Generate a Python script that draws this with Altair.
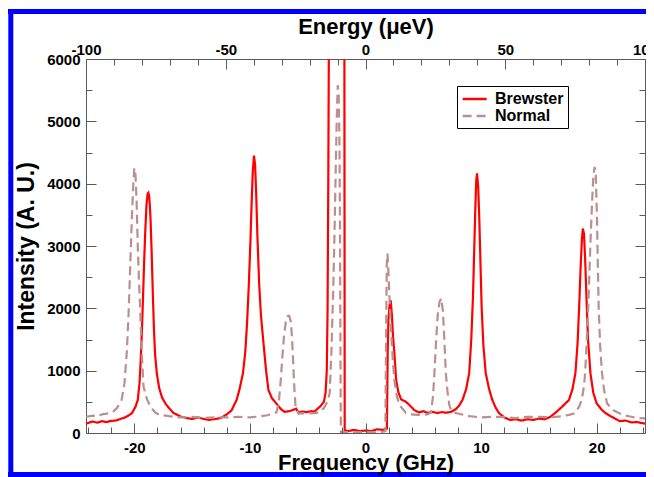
import altair as alt
import pandas as pd

# ---------------- data (frequency GHz, intensity A.U.) ----------------
series_names = ["Brewster", "Normal"]
series_colors = ["#ff0000", "#bc8f8f"]

brewster_points = [
    (-24.18, 150), (-23.6, 185), (-23.2, 165), (-22.8, 190), (-22.4, 175), (-22.0, 195),
    (-21.6, 200), (-21.2, 225), (-20.8, 250), (-20.5, 280), (-20.2, 320), (-19.9, 420),
    (-19.7, 530), (-19.55, 800), (-19.45, 1150), (-19.35, 1600), (-19.25, 2150), (-19.15, 2750),
    (-19.05, 3250), (-18.95, 3650), (-18.85, 3840), (-18.78, 3855), (-18.7, 3780), (-18.6, 3450),
    (-18.5, 2900), (-18.4, 2250), (-18.3, 1650), (-18.2, 1250), (-18.05, 950), (-17.85, 720),
    (-17.6, 570), (-17.3, 470), (-17.0, 400), (-16.6, 320), (-16.0, 265), (-15.5, 240),
    (-15.0, 225), (-14.5, 250), (-14.0, 225), (-13.5, 210), (-13.0, 225), (-12.5, 240),
    (-12.0, 300), (-11.6, 360), (-11.15, 530), (-10.9, 700), (-10.6, 960), (-10.4, 1300),
    (-10.25, 1750), (-10.1, 2350), (-9.95, 3100), (-9.85, 3700), (-9.75, 4200), (-9.65, 4450),
    (-9.55, 4300), (-9.45, 3800), (-9.35, 3150), (-9.2, 2400), (-9.05, 1900), (-8.85, 1490),
    (-8.6, 1000), (-8.4, 690), (-8.1, 560), (-7.7, 470), (-7.3, 380), (-7.0, 340),
    (-6.6, 350), (-6.2, 375), (-6.0, 390), (-5.8, 330), (-5.5, 345), (-5.1, 335),
    (-4.7, 350), (-4.4, 345), (-4.2, 380), (-3.9, 430), (-3.6, 500), (-3.45, 650),
    (-3.35, 1000), (-3.28, 2000), (-3.22, 4000), (-3.15, 7000),
    (-3.05, 9500), (-1.84, 9500), (-1.80, 45), (-1.5, 30), (-1.0, 50), (-0.5, 30),
    (0.0, 40), (0.5, 30), (1.0, 60), (1.5, 50), (1.85, 70), (1.92, 1300),
    (1.98, 1800), (2.08, 2050), (2.18, 2130), (2.28, 1900), (2.38, 1550), (2.5, 1280),
    (2.65, 850), (2.85, 650), (3.08, 540), (3.5, 500), (3.8, 450), (4.2, 370),
    (4.6, 330), (5.0, 350), (5.4, 320), (5.8, 340), (6.2, 320), (6.6, 335),
    (7.0, 325), (7.4, 340), (7.8, 380), (8.1, 440), (8.39, 530), (8.7, 700),
    (8.97, 960), (9.15, 1500), (9.3, 2200), (9.4, 2900), (9.5, 3600), (9.58, 4050),
    (9.65, 4165), (9.75, 3950), (9.85, 3400), (9.95, 2700), (10.05, 2000), (10.2, 1400),
    (10.4, 960), (10.7, 700), (10.97, 530), (11.25, 410), (11.55, 320), (12.0, 250),
    (12.5, 210), (13.0, 220), (13.5, 200), (14.0, 220), (14.5, 210), (15.0, 230),
    (15.5, 220), (16.0, 260), (16.4, 320), (17.0, 420), (17.6, 530), (17.9, 700),
    (18.16, 960), (18.35, 1450), (18.5, 2100), (18.62, 2700), (18.72, 3100), (18.8, 3280),
    (18.9, 3200), (19.0, 2800), (19.12, 2150), (19.25, 1500), (19.46, 960), (19.7, 650),
    (20.0, 475), (20.4, 380), (20.75, 320), (21.2, 270), (21.6, 230), (22.0, 190),
    (22.5, 200), (23.0, 170), (23.5, 175), (24.18, 150),
]

normal_points = [
    (-24.18, 260), (-23.6, 280), (-23.2, 265), (-22.8, 300), (-22.4, 310), (-21.9, 330),
    (-21.5, 400), (-21.1, 530), (-20.85, 800), (-20.65, 1300), (-20.5, 1900), (-20.35, 2700),
    (-20.22, 3400), (-20.1, 3950), (-20.0, 4250), (-19.9, 4150), (-19.8, 3700), (-19.7, 3000),
    (-19.6, 2450), (-19.5, 2030), (-19.35, 1250), (-19.2, 740), (-18.9, 540), (-18.6, 420),
    (-18.2, 330), (-17.8, 290), (-17.0, 270), (-16.0, 250), (-15.0, 260), (-14.0, 240),
    (-13.0, 250), (-12.0, 250), (-11.0, 260), (-10.0, 250), (-9.0, 270), (-8.5, 285),
    (-8.0, 310), (-7.7, 330), (-7.5, 500), (-7.35, 800), (-7.2, 1200), (-7.05, 1550),
    (-6.9, 1780), (-6.75, 1870), (-6.6, 1880), (-6.45, 1780), (-6.35, 1500), (-6.25, 1100),
    (-6.15, 700), (-6.05, 420), (-5.8, 310), (-5.5, 320), (-5.0, 310), (-4.5, 320),
    (-4.0, 330), (-3.6, 400), (-3.3, 500), (-3.1, 640), (-2.95, 1300), (-2.8, 2240),
    (-2.68, 3200), (-2.58, 4200), (-2.48, 5100), (-2.4, 5580), (-2.32, 5450), (-2.25, 4600),
    (-2.2, 3000), (-2.16, 1000), (-2.13, 10), (-1.5, 15), (-1.0, 10), (-0.5, 15),
    (0.0, 10), (0.5, 15), (1.0, 10), (1.5, 20), (1.72, 30), (1.78, 1500),
    (1.84, 2700), (1.9, 2880), (1.98, 2600), (2.1, 2050), (2.2, 1700), (2.35, 1200),
    (2.5, 850), (2.7, 600), (2.93, 450), (3.5, 320), (4.0, 300), (4.5, 290),
    (5.0, 290), (5.4, 300), (5.66, 330), (5.85, 600), (6.0, 1100), (6.1, 1450),
    (6.25, 1900), (6.4, 2100), (6.55, 2160), (6.7, 1950), (6.82, 1500), (6.95, 960),
    (7.1, 650), (7.25, 450), (7.4, 370), (7.8, 320), (8.5, 290), (9.0, 270),
    (10.0, 250), (11.0, 260), (12.0, 255), (13.0, 240), (14.0, 260), (15.0, 260),
    (16.0, 250), (17.0, 270), (17.6, 290), (18.0, 310), (18.2, 340), (18.5, 430),
    (18.7, 530), (18.9, 750), (19.0, 960), (19.15, 1500), (19.3, 2200), (19.45, 3000),
    (19.6, 3700), (19.72, 4150), (19.82, 4270), (19.92, 4150), (20.02, 3500), (20.1, 2700),
    (20.17, 2026), (20.3, 1400), (20.46, 960), (20.65, 680), (20.9, 475), (21.4, 370),
    (21.9, 320), (22.5, 280), (23.0, 260), (23.5, 240), (24.18, 235),
]

freq_ticks = list(range(-24, 25, 2))
energy_ticks = list(range(-100, 101, 10))
intensity_ticks = list(range(0, 6001, 500))

GHZ_TO_UEV = 4.135667
F_MAX = 100 / GHZ_TO_UEV

frames = []
for name, pts in zip(series_names, [brewster_points, normal_points]):
    frames.append(pd.DataFrame({
        "freq": [p[0] for p in pts],
        "intensity": [p[1] for p in pts],
        "series": name,
    }))
df = pd.concat(frames, ignore_index=True)

# ---------------- styling ----------------
FONT = "Liberation Sans"
AX = "#5a5a5a"
LABEL_SIZE = 15
TITLE_SIZE = 22


def major_minor(test, major, minor):
    return {"condition": {"test": test, "value": major}, "value": minor}


common_axis = dict(
    domain=False, grid=False, tickColor=AX, tickWidth=1,
    labelFont=FONT, labelFontSize=LABEL_SIZE, labelFontWeight="bold", labelColor="black",
    titleFont=FONT, titleFontSize=TITLE_SIZE, titleFontWeight="bold", titleColor="black",
    labelOverlap=False, labelFlush=False,
)

x_axis = alt.Axis(
    orient="bottom", values=freq_ticks, title="Frequency (GHz)",
    labelExpr="datum.value % 10 === 0 ? '' + datum.value : ''",
    tickSize=major_minor("datum.value % 10 === 0", -10, -6),
    labelPadding=17, titleY=36, titleBaseline="alphabetic", zindex=1, **common_axis,
)
y_axis = alt.Axis(
    orient="left", values=intensity_ticks, title="Intensity (A. U.)",
    labelExpr="datum.value % 1000 === 0 ? '' + datum.value : ''",
    tickSize=major_minor("datum.value % 1000 === 0", -10, -6),
    labelPadding=16, titleX=-53, titleBaseline="alphabetic",
    **{**common_axis, "titleFontSize": 23},
)
top_axis = alt.Axis(
    orient="top", values=energy_ticks, title="Energy (μeV)",
    labelExpr="datum.value % 50 === 0 ? '' + datum.value : ''",
    tickSize=major_minor("datum.value % 50 === 0", -10, -6),
    labelPadding=12, titleY=-26, titleBaseline="alphabetic", **common_axis,
)
right_axis = alt.Axis(
    orient="right", values=intensity_ticks, title=None, labels=False,
    tickSize=major_minor("datum.value % 1000 === 0", -10, -6),
    **common_axis,
)

legend = alt.Legend(
    title=None, orient="none", legendX=371, legendY=27, direction="vertical",
    strokeColor="black", fillColor="white", padding=4,
    labelFont=FONT, labelFontSize=16, labelFontWeight="bold", labelColor="black",
    symbolType="M-0.98,0H2.22", symbolSize=225, symbolStrokeWidth=2.5,
    labelOffset=16, rowPadding=0,
)

lines = alt.Chart(df).mark_line(clip=True, strokeWidth=2.2).encode(
    x=alt.X("freq:Q", scale=alt.Scale(domain=[-F_MAX, F_MAX], nice=False, zero=False), axis=x_axis),
    y=alt.Y("intensity:Q", scale=alt.Scale(domain=[0, 6000], nice=False), axis=y_axis),
    color=alt.Color("series:N", scale=alt.Scale(domain=series_names, range=series_colors), legend=legend),
    strokeDash=alt.StrokeDash("series:N", scale=alt.Scale(domain=series_names, range=[[1, 0], [9, 5]]), legend=legend),
)

top = alt.Chart(pd.DataFrame({"energy": energy_ticks})).mark_point(opacity=0).encode(
    x=alt.X("energy:Q", scale=alt.Scale(domain=[-100, 100], nice=False, zero=False), axis=top_axis),
)

right = alt.Chart(pd.DataFrame({"intensity": intensity_ticks})).mark_point(opacity=0).encode(
    y=alt.Y("intensity:Q", axis=right_axis),
)

# decorative blue frame of the original figure (top, left and bottom bands)
one = pd.DataFrame({"k": [0]})
BLUE = "#0000ff"
frame_left = alt.Chart(one).mark_rect(color=BLUE).encode(
    x=alt.value(-77.7), x2=alt.value(-72.7), y=alt.value(-50), y2=alt.value(418))
frame_top = alt.Chart(one).mark_rect(color=BLUE).encode(
    x=alt.value(-78), x2=alt.value(560), y=alt.value(-50), y2=alt.value(-45))
frame_bottom = alt.Chart(one).mark_rect(color=BLUE).encode(
    x=alt.value(-78), x2=alt.value(560), y=alt.value(413), y2=alt.value(418))

chart = alt.layer(lines, top, right, frame_left, frame_top, frame_bottom).resolve_scale(
    x="independent"
).resolve_axis(
    x="independent", y="independent"
).properties(
    width=559, height=374,
    autosize=alt.AutoSizeParams(type="none"),
    padding={"left": 78, "top": 51, "right": 1, "bottom": 44},
    background="white",
).configure_view(stroke=AX, strokeWidth=1)

chart.save("out.html", embed_options={"renderer": "svg", "actions": False})
